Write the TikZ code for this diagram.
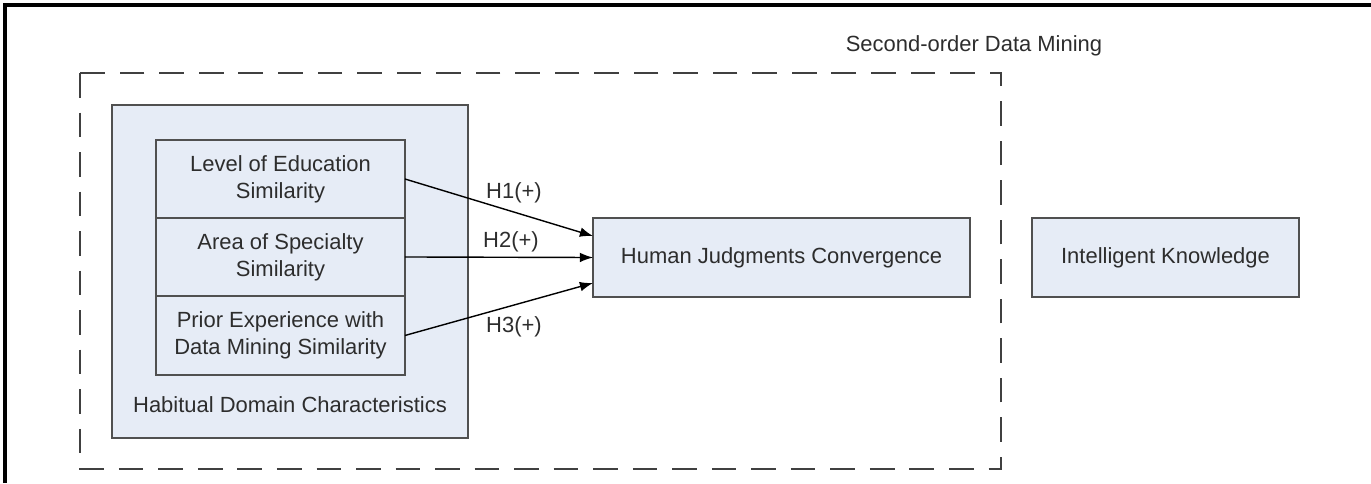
\documentclass[tikz,border=0pt]{standalone}
\usepackage{fontspec}
\setmainfont{Liberation Sans}
\usetikzlibrary{arrows.meta, positioning}
\definecolor{boxfill}{RGB}{230,236,246}
\definecolor{boxline}{RGB}{80,80,80}
\definecolor{txtgray}{RGB}{45,45,45}

\begin{document}
\begin{tikzpicture}[x=0.02cm, y=-0.02cm, font=\fontsize{12.5}{15.2}\selectfont, text=txtgray,
    >={Latex[length=7.5pt,width=5.5pt]},
    box/.style={draw=boxline, line width=1.1pt, fill=boxfill, align=center, inner sep=0pt, outer sep=0pt}]
    \useasboundingbox (0,0) rectangle (1371,483);
    \draw[line width=1.8pt] (5,483) -- (5,5) -- (1371,5);
    \draw[dashed, dash pattern=on 14pt off 8.5pt, line width=1.1pt, draw=black!75] (80,73) rectangle (1001,469);
    \node (dmlbl) at (974,46) {Second-order Data Mining};
    \node[box, minimum width=7.12cm, minimum height=6.66cm] (habit) at (290,271.5) {};
    \node[box, minimum width=4.98cm, minimum height=1.56cm] (edu) at (280.5,179) {Level of Education\\Similarity};
    \node[box, minimum width=4.98cm, minimum height=1.56cm, below=0pt of edu] (spec) {Area of Specialty\\Similarity};
    \node[box, minimum width=4.98cm, minimum height=1.58cm, below=0pt of spec] (prior) {Prior Experience with\\Data Mining Similarity};
    \node (habitlbl) at (290,405) {Habitual Domain Characteristics};
    \node[box, minimum width=7.54cm, minimum height=1.58cm] (hjc) at (781.5,257.5) {Human Judgments Convergence};
    \node[box, minimum width=5.34cm, minimum height=1.58cm] (ik) at (1165.5,257.5) {Intelligent Knowledge};
    \draw[->, line width=0.8pt] (edu.east) -- ([yshift=12.2pt]hjc.west);
    \draw[->, line width=0.8pt] (spec.east) -- (hjc.west);
    \draw[->, line width=0.8pt] (prior.east) -- ([yshift=-14.5pt]hjc.west);
    \node (h1lbl) at (514,193) {H1(+)};
    \node (h2lbl) at (511,242) {H2(+)};
    \node (h3lbl) at (514,327) {H3(+)};
\end{tikzpicture}
\end{document}
